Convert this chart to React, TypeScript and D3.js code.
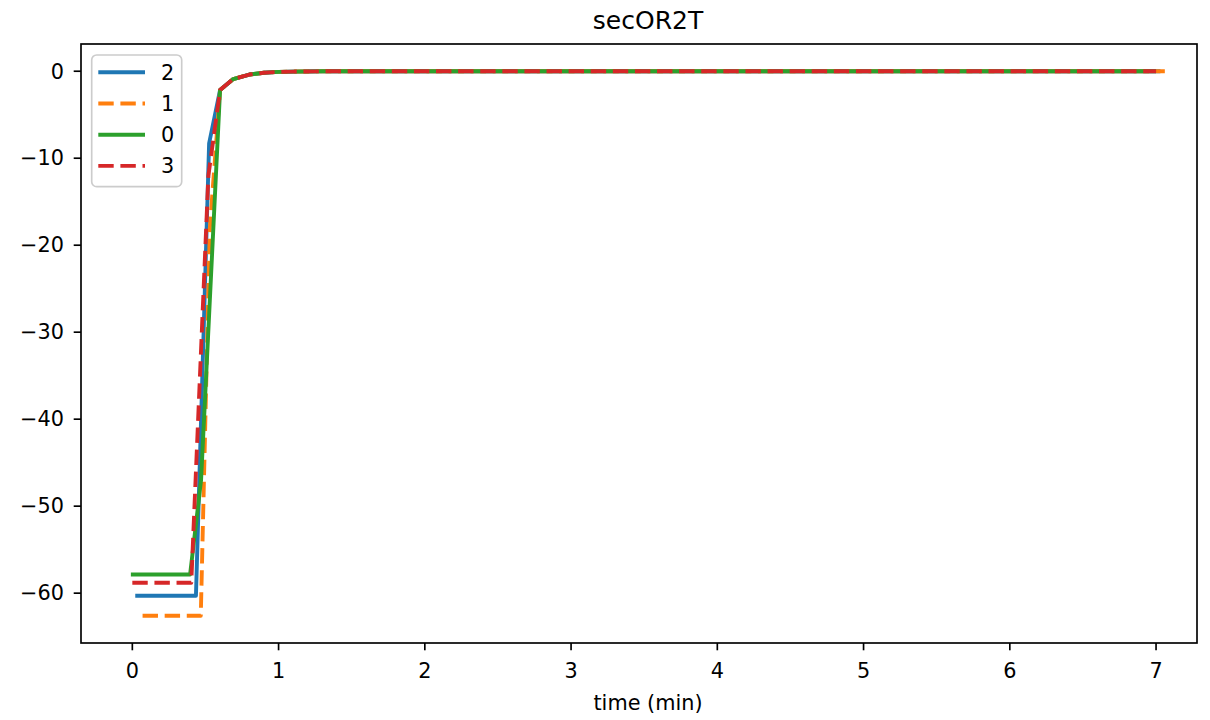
import React from "react";
import * as d3 from "d3";

const W = 1210;
const H = 720;
const margin = { left: 81, top: 44, right: 13, bottom: 77 };

const title = "secOR2T";
const xLabel = "time (min)";
const xTicks = [0, 1, 2, 3, 4, 5, 6, 7];
const yTicks = [0, -10, -20, -30, -40, -50, -60];

// shared settling tail (time, value)
const tail: [number, number][] = [
  [0.6, -2.15], [0.69, -0.9], [0.8, -0.38], [0.9, -0.18], [1.0, -0.08],
  [1.1, -0.04], [1.3, -0.01], [1.6, 0],
];

const series2: [number, number][] = [[0.02, -60.3], [0.435, -60.3], [0.525, -8.3], ...tail, [7.03, 0]];
const series1: [number, number][] = [[0.07, -62.6], [0.468, -62.6], [0.53, -18], ...tail, [7.06, 0]];
const series0: [number, number][] = [[-0.01, -57.85], [0.395, -57.85], [0.47, -47], ...tail, [7.0, 0]];
const series3: [number, number][] = [[0.0, -58.8], [0.403, -58.8], [0.52, -12], ...tail, [7.0, 0]];

const seriesNames = ["2", "1", "0", "3"];
const seriesData = [series2, series1, series0, series3];
const seriesColors = ["#1f77b4", "#ff7f0e", "#2ca02c", "#d62728"];
const seriesDashed = [false, true, false, true];

export default function App() {
  const iw = W - margin.left - margin.right;
  const ih = H - margin.top - margin.bottom;
  const x = d3.scaleLinear().domain([-0.351, 7.28]).range([0, iw]);
  const y = d3.scaleLinear().domain([-65.73, 3.13]).range([ih, 0]);
  const line = d3
    .line<[number, number]>()
    .x((d) => x(d[0]))
    .y((d) => y(d[1]));
  const font = "DejaVu Sans, sans-serif";
  const fmt = (v: number) => (v < 0 ? "\u2212" + Math.abs(v) : String(v));
  const lw = 3.9;
  const dash = "15.4,6.7";
  const fs = 20.8;
  const textCenter = 648;

  return (
    <svg
      width={W}
      height={H}
      style={{ position: "absolute", left: 0, top: 0, background: "#fff" }}
      fontFamily={font}
    >
      <rect x={0} y={0} width={W} height={H} fill="#fff" />
      <text x={textCenter} y={20.7} dy="0.35em" textAnchor="middle" fontSize={25} fill="#000">
        {title}
      </text>
      <text x={textCenter} y={margin.top + ih + 59.7} dy="0.35em" textAnchor="middle" fontSize={fs} fill="#000">
        {xLabel}
      </text>
      <g transform={`translate(${margin.left},${margin.top})`}>
        <defs>
          <clipPath id="clip">
            <rect x={0} y={0} width={iw} height={ih} />
          </clipPath>
        </defs>
        <g clipPath="url(#clip)">
          {seriesData.map((s, i) => (
            <path
              key={i}
              d={line(s) || ""}
              fill="none"
              stroke={seriesColors[i]}
              strokeWidth={lw}
              strokeDasharray={seriesDashed[i] ? dash : undefined}
              strokeLinejoin="round"
            />
          ))}
        </g>
        {/* spines */}
        <rect x={0} y={0} width={iw} height={ih} fill="none" stroke="#000" strokeWidth={1.67} />
        {/* x ticks */}
        {xTicks.map((t) => (
          <g key={"x" + t} transform={`translate(${x(t)},${ih})`}>
            <line y1={0} y2={7.3} stroke="#000" strokeWidth={1.67} />
            <text y={28} dy="0.35em" textAnchor="middle" fontSize={fs} fill="#000">
              {fmt(t)}
            </text>
          </g>
        ))}
        {/* y ticks */}
        {yTicks.map((t) => (
          <g key={"y" + t} transform={`translate(0,${y(t)})`}>
            <line x1={0} x2={-7.3} stroke="#000" strokeWidth={1.67} />
            <text x={-17} dy="0.35em" textAnchor="end" fontSize={fs} fill="#000">
              {fmt(t)}
            </text>
          </g>
        ))}
        {/* legend */}
        <g transform="translate(10.7,11)">
          <rect
            x={0}
            y={0}
            width={90}
            height={131.7}
            rx={5}
            fill="#fff"
            fillOpacity={0.8}
            stroke="#cccccc"
            strokeWidth={1.67}
          />
          {seriesNames.map((n, i) => (
            <g key={n} transform={`translate(0,${17.3 + i * 31.2})`}>
              <line
                x1={6.6}
                x2={53.3}
                y1={0}
                y2={0}
                stroke={seriesColors[i]}
                strokeWidth={lw}
                strokeDasharray={seriesDashed[i] ? dash : undefined}
              />
              <text x={69.3} dy="0.35em" fontSize={fs} fill="#000">
                {n}
              </text>
            </g>
          ))}
        </g>
      </g>
    </svg>
  );
}
